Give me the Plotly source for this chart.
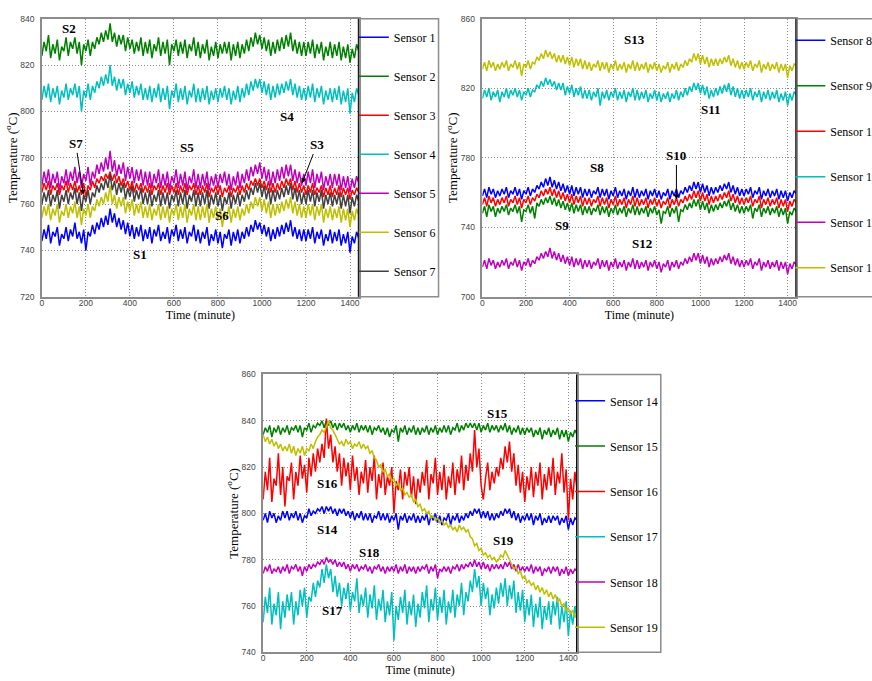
import plotly.graph_objects as go

# ---------------- data (10-minute readings) ----------------
time_min = list(range(0, 1441, 10))

# Panel 1 (Sensors 1-7)
sensor1 = [744, 749, 745, 751, 743, 748, 746, 750, 742, 747, 745, 750,
           744, 749, 746, 752, 745, 748, 743, 749, 740, 748, 746, 751,
           747, 752, 749, 754, 750, 755, 751, 758, 752, 756, 750, 754,
           749, 753, 747, 752, 746, 751, 745, 750, 746, 751, 744, 749,
           745, 750, 743, 749, 746, 751, 744, 748, 745, 750, 743, 749,
           746, 751, 744, 749, 745, 750, 743, 748, 746, 751, 744, 749,
           743, 748, 745, 750, 742, 747, 744, 749, 743, 748, 741, 747,
           745, 749, 742, 748, 744, 749, 743, 748, 745, 750, 746, 751,
           748, 753, 749, 752, 747, 751, 746, 750, 744, 749, 745, 750,
           746, 751, 747, 752, 748, 753, 746, 750, 745, 749, 744, 749,
           744, 749, 745, 750, 743, 748, 745, 749, 742, 747, 744, 749,
           743, 748, 744, 749, 742, 747, 743, 748, 739, 746, 743, 748,
           745]
sensor2 = [824, 830, 826, 833, 823, 829, 825, 831, 822, 828, 826, 832,
           824, 830, 827, 832, 825, 830, 820, 829, 826, 831, 824, 830,
           827, 832, 829, 834, 830, 835, 831, 838, 830, 834, 828, 833,
           829, 833, 826, 832, 827, 831, 825, 830, 826, 832, 824, 830,
           825, 831, 823, 829, 826, 832, 824, 830, 825, 831, 820, 829,
           826, 831, 824, 830, 825, 831, 823, 829, 826, 832, 824, 830,
           823, 829, 825, 831, 822, 828, 824, 830, 823, 829, 825, 830,
           825, 830, 822, 829, 824, 830, 823, 829, 825, 831, 826, 832,
           828, 834, 829, 833, 827, 832, 826, 831, 824, 830, 825, 831,
           826, 832, 827, 833, 828, 834, 826, 831, 825, 830, 824, 830,
           824, 830, 825, 831, 823, 829, 825, 830, 822, 828, 824, 830,
           823, 829, 824, 830, 822, 828, 823, 829, 821, 827, 823, 829,
           826]
sensor3 = [765, 769, 766, 770, 764, 768, 766, 769, 764, 768, 766, 770,
           765, 769, 766, 770, 765, 768, 764, 769, 763, 768, 766, 770,
           767, 771, 769, 772, 770, 773, 771, 774, 770, 773, 769, 772,
           768, 771, 767, 770, 766, 770, 765, 769, 766, 769, 765, 768,
           765, 769, 764, 768, 766, 769, 764, 768, 765, 769, 764, 768,
           765, 769, 764, 768, 765, 769, 764, 768, 766, 769, 764, 768,
           764, 768, 765, 769, 763, 767, 765, 768, 764, 768, 763, 767,
           765, 768, 763, 767, 765, 768, 764, 768, 765, 769, 766, 770,
           768, 771, 768, 771, 767, 770, 766, 770, 765, 769, 765, 769,
           766, 770, 767, 771, 768, 771, 766, 770, 765, 769, 765, 768,
           764, 768, 765, 769, 764, 767, 765, 768, 763, 767, 764, 768,
           763, 767, 764, 768, 763, 767, 764, 767, 762, 766, 764, 767,
           765]
sensor4 = [805, 811, 806, 812, 804, 810, 806, 811, 803, 809, 806, 812,
           805, 810, 807, 812, 806, 811, 800, 809, 806, 812, 805, 811,
           808, 813, 810, 815, 811, 816, 812, 820, 811, 815, 809, 814,
           810, 814, 807, 812, 808, 813, 806, 811, 807, 812, 805, 810,
           805, 811, 804, 810, 806, 812, 804, 810, 805, 811, 801, 809,
           806, 812, 804, 810, 805, 811, 803, 809, 806, 812, 804, 810,
           804, 810, 805, 811, 803, 809, 805, 810, 804, 810, 806, 811,
           805, 810, 803, 809, 805, 811, 804, 810, 806, 812, 807, 813,
           809, 814, 810, 814, 808, 813, 807, 812, 805, 811, 806, 812,
           807, 812, 808, 813, 809, 814, 807, 812, 806, 811, 805, 810,
           805, 811, 806, 812, 804, 810, 806, 811, 803, 809, 805, 810,
           804, 810, 805, 811, 803, 809, 804, 810, 799, 808, 804, 810,
           807]
sensor5 = [768, 774, 769, 775, 767, 773, 769, 774, 766, 772, 769, 775,
           768, 774, 770, 776, 769, 774, 767, 773, 770, 776, 768, 774,
           771, 777, 773, 778, 774, 780, 775, 783, 774, 779, 772, 777,
           773, 778, 770, 776, 771, 776, 769, 775, 770, 775, 768, 774,
           768, 774, 767, 773, 769, 775, 767, 773, 768, 774, 766, 772,
           769, 775, 767, 773, 768, 774, 766, 772, 769, 775, 767, 773,
           767, 773, 768, 774, 766, 772, 768, 773, 767, 773, 769, 774,
           768, 773, 766, 772, 768, 774, 767, 773, 769, 775, 770, 776,
           772, 777, 773, 778, 771, 776, 770, 775, 768, 774, 769, 775,
           770, 776, 771, 777, 772, 777, 770, 775, 769, 774, 768, 773,
           768, 774, 769, 775, 767, 773, 769, 774, 766, 772, 768, 773,
           767, 773, 768, 773, 766, 772, 767, 772, 765, 771, 767, 772,
           769]
sensor6 = [754, 759, 755, 760, 753, 758, 755, 760, 752, 757, 755, 760,
           754, 759, 756, 761, 754, 759, 751, 758, 755, 760, 754, 759,
           757, 762, 759, 763, 760, 765, 761, 768, 760, 764, 758, 763,
           759, 763, 756, 761, 757, 762, 755, 760, 756, 761, 754, 759,
           754, 760, 753, 758, 755, 760, 753, 759, 754, 759, 752, 758,
           755, 760, 753, 759, 754, 760, 752, 758, 755, 760, 753, 759,
           753, 759, 754, 760, 752, 758, 754, 759, 753, 758, 750, 757,
           754, 759, 752, 758, 754, 759, 753, 758, 755, 760, 756, 761,
           758, 763, 759, 763, 757, 762, 756, 761, 754, 760, 755, 760,
           756, 761, 757, 762, 758, 763, 756, 761, 755, 760, 754, 759,
           754, 760, 755, 760, 753, 759, 755, 760, 752, 758, 754, 759,
           753, 758, 754, 759, 752, 758, 753, 758, 750, 757, 753, 758,
           755]
sensor7 = [760, 765, 761, 766, 759, 764, 761, 766, 758, 764, 761, 766,
           760, 765, 762, 767, 760, 765, 757, 764, 761, 766, 760, 765,
           763, 768, 765, 769, 766, 771, 767, 773, 766, 770, 764, 769,
           765, 769, 762, 767, 763, 768, 761, 766, 762, 767, 760, 765,
           760, 766, 759, 764, 761, 766, 759, 765, 760, 765, 758, 764,
           761, 766, 759, 765, 760, 766, 758, 764, 761, 766, 759, 765,
           759, 765, 760, 766, 758, 764, 760, 765, 759, 764, 757, 763,
           760, 765, 758, 764, 760, 765, 759, 764, 761, 766, 762, 767,
           764, 769, 765, 769, 763, 768, 762, 767, 760, 766, 761, 766,
           762, 767, 763, 768, 764, 769, 762, 767, 761, 766, 760, 765,
           760, 766, 761, 766, 759, 765, 761, 766, 758, 764, 760, 765,
           759, 764, 760, 765, 758, 764, 759, 764, 756, 763, 759, 764,
           761]

# Panel 2 (Sensors 8-13)
sensor8 = [758, 762, 757, 763, 759, 762, 757, 761, 758, 762, 759, 763,
           757, 761, 759, 763, 758, 762, 756, 761, 759, 763, 758, 762,
           760, 764, 762, 766, 763, 768, 764, 769, 763, 767, 762, 766,
           761, 765, 760, 764, 759, 764, 758, 763, 759, 763, 757, 762,
           758, 762, 757, 761, 759, 763, 757, 762, 758, 762, 756, 761,
           758, 763, 757, 761, 758, 762, 756, 761, 758, 763, 757, 762,
           757, 761, 758, 762, 756, 761, 758, 762, 757, 761, 756, 760,
           758, 762, 756, 761, 758, 762, 757, 761, 759, 763, 760, 764,
           761, 766, 762, 766, 760, 765, 760, 764, 758, 763, 759, 763,
           760, 764, 761, 765, 762, 766, 760, 764, 759, 763, 758, 762,
           758, 762, 759, 763, 757, 761, 759, 763, 756, 761, 758, 762,
           757, 761, 758, 762, 756, 761, 757, 761, 755, 760, 757, 761,
           759]
sensor9 = [748, 752, 746, 753, 749, 752, 746, 751, 748, 752, 749, 753,
           747, 751, 749, 753, 748, 752, 743, 750, 749, 753, 748, 752,
           745, 754, 752, 756, 753, 757, 754, 758, 753, 757, 752, 756,
           751, 755, 750, 754, 749, 754, 748, 753, 749, 753, 747, 752,
           748, 752, 747, 751, 749, 753, 747, 752, 748, 752, 746, 751,
           748, 753, 747, 751, 748, 752, 746, 751, 748, 753, 747, 752,
           747, 751, 748, 752, 746, 751, 748, 752, 747, 750, 742, 749,
           748, 752, 746, 751, 748, 752, 743, 750, 749, 753, 750, 754,
           751, 756, 752, 756, 750, 755, 750, 754, 748, 753, 749, 753,
           750, 754, 751, 755, 752, 756, 750, 754, 749, 753, 748, 752,
           748, 752, 749, 753, 745, 751, 749, 753, 746, 751, 748, 752,
           747, 751, 748, 752, 746, 751, 747, 751, 742, 749, 747, 751,
           749]
sensor10 = [753, 757, 752, 758, 754, 757, 752, 756, 753, 757, 754, 758,
            752, 756, 754, 758, 753, 757, 751, 756, 754, 758, 753, 757,
            755, 759, 757, 761, 758, 762, 759, 763, 758, 762, 757, 761,
            756, 760, 755, 759, 754, 759, 753, 758, 754, 758, 752, 757,
            753, 757, 752, 756, 754, 758, 752, 757, 753, 757, 751, 756,
            753, 758, 752, 756, 753, 757, 751, 756, 753, 758, 752, 757,
            752, 756, 753, 757, 751, 756, 753, 757, 752, 756, 751, 755,
            753, 757, 751, 756, 753, 757, 752, 756, 754, 758, 755, 759,
            756, 761, 757, 761, 755, 760, 755, 759, 753, 758, 754, 758,
            755, 759, 756, 760, 757, 761, 755, 759, 754, 758, 753, 757,
            753, 757, 754, 758, 752, 756, 754, 758, 751, 756, 753, 757,
            752, 756, 753, 757, 751, 756, 752, 756, 749, 755, 752, 756,
            754]
sensor11 = [814, 819, 815, 820, 813, 818, 815, 819, 812, 818, 815, 820,
            814, 819, 816, 820, 815, 819, 813, 818, 816, 820, 815, 819,
            818, 822, 820, 824, 821, 826, 822, 825, 821, 824, 819, 823,
            819, 823, 816, 821, 817, 822, 815, 820, 816, 821, 814, 819,
            814, 819, 813, 818, 815, 820, 810, 818, 814, 819, 813, 818,
            815, 820, 813, 818, 814, 819, 812, 818, 815, 820, 813, 819,
            813, 818, 814, 819, 812, 817, 814, 819, 813, 818, 812, 817,
            814, 818, 812, 817, 814, 819, 813, 818, 815, 820, 816, 821,
            818, 823, 819, 823, 817, 822, 816, 821, 814, 819, 815, 820,
            816, 821, 817, 822, 818, 823, 816, 821, 815, 820, 814, 819,
            814, 819, 815, 820, 813, 818, 815, 819, 812, 818, 814, 819,
            813, 818, 814, 819, 812, 817, 813, 818, 810, 817, 813, 818,
            816]
sensor12 = [717, 721, 716, 722, 718, 721, 716, 720, 717, 721, 718, 722,
            716, 720, 718, 722, 717, 721, 715, 720, 718, 722, 717, 721,
            719, 723, 721, 725, 722, 726, 723, 728, 722, 726, 721, 725,
            720, 724, 719, 723, 718, 723, 717, 722, 718, 722, 716, 721,
            717, 721, 716, 720, 718, 722, 716, 721, 717, 721, 715, 720,
            717, 722, 716, 720, 717, 721, 715, 720, 717, 722, 716, 721,
            716, 720, 717, 721, 715, 720, 717, 721, 716, 720, 714, 719,
            717, 721, 715, 720, 717, 721, 716, 720, 718, 722, 719, 723,
            720, 725, 721, 725, 719, 724, 719, 723, 717, 722, 718, 722,
            719, 723, 720, 724, 721, 725, 719, 723, 718, 722, 717, 721,
            717, 721, 718, 722, 716, 720, 718, 722, 715, 720, 717, 721,
            716, 720, 717, 721, 715, 720, 716, 720, 713, 719, 716, 720,
            718]
sensor13 = [831, 835, 830, 836, 832, 835, 830, 834, 831, 835, 832, 836,
            830, 834, 832, 836, 831, 835, 827, 834, 832, 836, 831, 835,
            834, 838, 836, 840, 837, 842, 838, 841, 837, 840, 835, 839,
            835, 839, 834, 838, 833, 838, 832, 837, 833, 837, 831, 836,
            831, 835, 830, 834, 832, 836, 830, 835, 831, 835, 829, 834,
            831, 836, 830, 834, 831, 835, 829, 834, 831, 836, 830, 835,
            830, 834, 831, 835, 829, 834, 831, 835, 830, 834, 829, 833,
            831, 835, 829, 834, 831, 835, 830, 834, 832, 836, 833, 837,
            835, 840, 836, 840, 834, 839, 834, 838, 832, 837, 833, 837,
            833, 837, 834, 838, 835, 839, 833, 837, 832, 836, 831, 835,
            831, 835, 832, 836, 830, 834, 832, 836, 829, 834, 831, 835,
            830, 834, 831, 835, 829, 834, 830, 834, 826, 833, 830, 834,
            833]

# Panel 3 (Sensors 14-19)
sensor14 = [797, 800, 796, 801, 798, 800, 796, 799, 797, 801, 798, 801,
            797, 800, 798, 801, 797, 800, 796, 799, 798, 802, 799, 801,
            800, 802, 801, 803, 800, 803, 801, 803, 800, 802, 799, 802,
            800, 802, 799, 801, 798, 801, 797, 800, 798, 801, 797, 800,
            797, 800, 796, 799, 798, 801, 797, 800, 797, 800, 796, 799,
            797, 800, 793, 799, 797, 800, 796, 799, 797, 800, 796, 799,
            796, 799, 797, 800, 795, 799, 797, 800, 796, 799, 795, 798,
            797, 800, 795, 799, 797, 800, 796, 799, 797, 800, 798, 801,
            799, 802, 800, 802, 798, 801, 798, 801, 797, 800, 797, 800,
            798, 801, 799, 802, 800, 802, 798, 801, 797, 800, 796, 799,
            797, 800, 797, 800, 795, 799, 797, 800, 795, 798, 796, 799,
            796, 799, 797, 799, 795, 798, 796, 799, 793, 798, 795, 798,
            797]
sensor15 = [834, 837, 835, 838, 833, 837, 835, 838, 834, 837, 835, 838,
            834, 837, 836, 838, 835, 838, 833, 837, 836, 839, 835, 838,
            837, 839, 838, 840, 837, 840, 838, 840, 837, 839, 836, 839,
            837, 839, 836, 838, 835, 838, 836, 839, 835, 838, 836, 838,
            835, 838, 834, 837, 836, 838, 835, 837, 834, 837, 833, 836,
            835, 838, 831, 837, 835, 838, 834, 837, 835, 838, 834, 837,
            834, 837, 835, 838, 834, 837, 835, 838, 834, 837, 835, 838,
            835, 838, 834, 837, 836, 839, 835, 838, 836, 839, 837, 839,
            837, 839, 836, 839, 835, 838, 836, 839, 835, 838, 836, 838,
            835, 838, 836, 839, 835, 838, 834, 837, 835, 838, 834, 837,
            834, 837, 835, 837, 833, 836, 834, 837, 832, 836, 834, 837,
            833, 836, 834, 837, 832, 836, 833, 836, 831, 835, 833, 836,
            834]
sensor16 = [806, 818, 810, 824, 805, 815, 812, 826, 808, 820, 803, 816,
            814, 822, 806, 818, 812, 825, 815, 821, 809, 824, 816, 826,
            818, 828, 822, 830, 824, 841, 828, 834, 822, 829, 818, 826,
            812, 824, 816, 822, 810, 825, 814, 820, 808, 818, 813, 823,
            809, 820, 814, 825, 806, 817, 811, 822, 808, 816, 812, 820,
            800, 814, 810, 819, 806, 818, 812, 820, 807, 816, 804, 815,
            809, 818, 812, 823, 806, 817, 813, 824, 808, 818, 810, 821,
            806, 816, 811, 822, 808, 819, 813, 825, 810, 821, 814, 826,
            818, 836, 820, 828, 812, 806, 815, 822, 810, 818, 813, 820,
            816, 824, 819, 829, 822, 831, 818, 826, 812, 821, 809, 818,
            805, 816, 810, 820, 807, 818, 812, 822, 806, 817, 810, 820,
            812, 824, 808, 818, 813, 826, 809, 819, 797, 815, 806, 818,
            810]
sensor17 = [753, 764, 757, 768, 752, 761, 756, 766, 750, 762, 755, 765,
            758, 766, 752, 762, 756, 767, 760, 768, 755, 764, 762, 770,
            764, 771, 768, 776, 770, 778, 772, 776, 766, 773, 764, 770,
            760, 768, 763, 770, 758, 766, 762, 772, 757, 765, 760, 768,
            755, 765, 759, 769, 754, 763, 758, 767, 753, 762, 756, 766,
            745, 760, 754, 764, 757, 767, 752, 762, 756, 765, 751, 761,
            755, 766, 759, 769, 753, 763, 758, 768, 754, 764, 757, 767,
            752, 762, 757, 767, 755, 765, 760, 770, 756, 766, 762, 771,
            766, 776, 768, 773, 760, 770, 763, 768, 756, 765, 759, 768,
            761, 770, 764, 772, 760, 769, 763, 771, 757, 766, 758, 767,
            753, 763, 756, 765, 751, 761, 755, 764, 750, 760, 754, 762,
            752, 762, 756, 764, 750, 760, 753, 762, 747, 758, 752, 760,
            754]
sensor18 = [774, 777, 775, 778, 774, 776, 775, 777, 774, 777, 775, 778,
            774, 777, 776, 778, 775, 777, 773, 777, 775, 778, 776, 778,
            777, 779, 778, 780, 778, 781, 779, 780, 778, 780, 777, 779,
            777, 779, 776, 778, 775, 778, 776, 778, 775, 777, 776, 778,
            775, 777, 774, 777, 776, 778, 775, 777, 774, 777, 775, 777,
            775, 778, 774, 777, 775, 778, 774, 777, 775, 777, 774, 777,
            775, 777, 776, 778, 774, 777, 775, 778, 772, 776, 775, 777,
            775, 777, 774, 777, 776, 778, 775, 778, 776, 778, 777, 779,
            777, 780, 777, 779, 776, 779, 776, 778, 775, 778, 776, 778,
            776, 778, 776, 779, 777, 779, 776, 778, 775, 778, 775, 777,
            775, 777, 775, 778, 774, 777, 775, 777, 773, 776, 775, 777,
            774, 777, 775, 777, 773, 776, 774, 777, 773, 776, 774, 776,
            775]
sensor19 = [834, 831, 833, 830, 832, 829, 831, 828, 830, 827, 829, 827,
            830, 826, 829, 825, 828, 826, 829, 825, 828, 827, 830, 828,
            831, 833, 834, 836, 835, 838, 840, 837, 836, 834, 832, 830,
            831, 829, 832, 830, 831, 828, 830, 829, 831, 828, 830, 828,
            829, 826, 827, 824, 823, 820, 821, 818, 819, 816, 817, 814,
            815, 812, 813, 810, 811, 808, 809, 807, 808, 805, 806, 803,
            804, 801, 802, 800, 801, 798, 799, 797, 798, 796, 797, 795,
            796, 794, 795, 793, 794, 792, 795, 793, 794, 792, 793, 790,
            789, 786, 787, 784, 785, 782, 783, 781, 782, 780, 781, 779,
            780, 782, 781, 784, 782, 780, 778, 776, 777, 774, 775, 772,
            773, 770, 771, 769, 770, 767, 769, 766, 768, 765, 767, 764,
            766, 763, 765, 762, 763, 760, 761, 758, 759, 757, 758, 755,
            757]

panel1_names = ["Sensor 1", "Sensor 2", "Sensor 3", "Sensor 4", "Sensor 5", "Sensor 6", "Sensor 7"]
panel2_names = ["Sensor 8", "Sensor 9", "Sensor 10", "Sensor 11", "Sensor 12", "Sensor 13"]
panel3_names = ["Sensor 14", "Sensor 15", "Sensor 16", "Sensor 17", "Sensor 18", "Sensor 19"]

x_ticks = [0, 200, 400, 600, 800, 1000, 1200, 1400]
y1_ticks = [720, 740, 760, 780, 800, 820, 840]
y2_ticks = [700, 740, 780, 820, 860]
y3_ticks = [740, 760, 780, 800, 820, 840, 860]

# ---------------- style ----------------
# The canvas is a little wider than the 872 px window so that the right-hand
# legend runs off the visible edge, as in the original figure.
W, H = 900, 681
BLUE, GREEN, RED, CYAN, MAG, YEL, GRAY = "#0000ff", "#008000", "#ff0000", "#00bfbf", "#bf00bf", "#bfbf00", "#404040"


def fx(p):
    return p / W


def fy(p):
    return 1 - p / H


panels = [
    (panel1_names, [sensor1, sensor2, sensor3, sensor4, sensor5, sensor6, sensor7],
     [BLUE, GREEN, RED, CYAN, MAG, YEL, GRAY], "x", "y", "legend"),
    (panel2_names, [sensor8, sensor9, sensor10, sensor11, sensor12, sensor13],
     [BLUE, GREEN, RED, CYAN, MAG, YEL], "x2", "y2", "legend2"),
    (panel3_names, [sensor14, sensor15, sensor16, sensor17, sensor18, sensor19],
     [BLUE, GREEN, RED, CYAN, MAG, YEL], "x3", "y3", "legend3"),
]

fig = go.Figure()
for names, series, cols, xa, ya, lg in panels:
    for n, v, c in zip(names, series, cols):
        fig.add_trace(go.Scatter(x=time_min, y=v, mode="lines", name=n,
                                 line=dict(color=c, width=1.5),
                                 xaxis=xa, yaxis=ya, legend=lg, legendgroup=n))

SERIF = "Liberation Serif, Times New Roman, serif"
SANS = "Liberation Sans, Arial, sans-serif"
GRID = dict(showgrid=True, gridcolor="#8a8a8a", griddash="1px,2px", gridwidth=1,
            showline=True, mirror=True, linecolor="#8c8c8c", linewidth=1.5,
            zeroline=False, ticks="", tickfont=dict(family=SANS, size=8.5, color="#444"))


def xaxis(dom, anchor):
    return dict(domain=dom, anchor=anchor, range=[0, 1440], tickvals=x_ticks, ticklabelstandoff=-3, **GRID,
                title=dict(text="Time (minute)", font=dict(family=SERIF, size=12, color="#000"), standoff=2))


def yaxis(dom, anchor, rng, ticks):
    return dict(domain=dom, anchor=anchor, range=rng, tickvals=ticks, ticklabelstandoff=4, **GRID,
                title=dict(text="Temperature (<sup>o</sup>C)", font=dict(family=SERIF, size=13, color="#000"),
                           standoff=0))


top_dom = [fy(296), fy(14)]
bot_dom = [fy(657), fy(375)]


def legend(xp, ytop, gap):
    return dict(x=fx(xp), y=fy(ytop), xanchor="left", yanchor="top", bgcolor="rgba(0,0,0,0)",
                borderwidth=0, font=dict(family=SERIF, size=12, color="#000"),
                tracegroupgap=gap, itemwidth=30)


fig.update_layout(
    width=W, height=H, margin=dict(l=0, r=0, t=0, b=0),
    paper_bgcolor="white", plot_bgcolor="white", showlegend=True,
    xaxis=xaxis([fx(40), fx(358)], "y"),
    yaxis=yaxis(top_dom, "x", [720, 840], y1_ticks),
    xaxis2=xaxis([fx(482), fx(797)], "y2"),
    yaxis2=yaxis(top_dom, "x2", [700, 860], y2_ticks),
    xaxis3=xaxis([fx(262), fx(577)], "y3"),
    yaxis3=yaxis(bot_dom, "x3", [740, 860], y3_ticks),
    legend=legend(353, 18, 20),
    legend2=legend(791, 21, 26.5),
    legend3=legend(570, 387, 26.3),
)

# legend frames and black right borders
shapes = []
for x0, x1, y0, y1 in [(358, 438, 296, 14), (797, 960, 296, 14), (577, 661, 657, 375)]:
    shapes.append(dict(type="rect", xref="paper", yref="paper", x0=fx(x0), x1=fx(x1),
                       y0=fy(y0), y1=fy(y1), line=dict(color="#8c8c8c", width=1.5), layer="above"))
for xa, ya in [("x", "y"), ("x2", "y2"), ("x3", "y3")]:
    shapes.append(dict(type="line", xref=xa, yref=ya + " domain", x0=1440, x1=1440, y0=0, y1=1,
                       line=dict(color="#000", width=2), layer="above"))
fig.update_layout(shapes=shapes)

# labels
labels = [
    ("S2", 125, 836, "x", "y", None),
    ("S4", 1114, 798, "x", "y", None),
    ("S7", 154, 786, "x", "y", (189, 764)),
    ("S5", 661, 784.5, "x", "y", None),
    ("S3", 1249, 785.5, "x", "y", (1182, 769)),
    ("S6", 820, 755, "x", "y", None),
    ("S1", 448, 738, "x", "y", None),
    ("S13", 699, 848, "x2", "y2", None),
    ("S11", 1050, 807.5, "x2", "y2", None),
    ("S8", 524, 774.5, "x2", "y2", None),
    ("S10", 890, 781, "x2", "y2", (890, 756)),
    ("S9", 364, 741, "x2", "y2", None),
    ("S12", 730, 730.5, "x2", "y2", None),
    ("S15", 1076, 843, "x3", "y3", None),
    ("S16", 296, 813, "x3", "y3", None),
    ("S14", 296, 793, "x3", "y3", None),
    ("S18", 486, 783.3, "x3", "y3", None),
    ("S17", 319, 758, "x3", "y3", None),
    ("S19", 1103, 788.4, "x3", "y3", None),
]
for t, lx, ly, xa, ya, arrow in labels:
    f = dict(family=SERIF, size=13, color="#000")
    if arrow is None:
        fig.add_annotation(text="<b>%s</b>" % t, x=lx, y=ly, xref=xa, yref=ya, showarrow=False, font=f)
    else:
        fig.add_annotation(text="<b>%s</b>" % t, x=arrow[0], y=arrow[1], ax=lx, ay=ly, xref=xa, yref=ya,
                           axref=xa, ayref=ya, showarrow=True, arrowhead=2, arrowsize=1,
                           arrowwidth=1, arrowcolor="#000", font=f)

fig.write_html("out.html", config={"displayModeBar": False},
               post_script="document.body.style.margin='0';document.body.style.overflow='hidden';"
                           "document.documentElement.style.overflow='hidden';")
